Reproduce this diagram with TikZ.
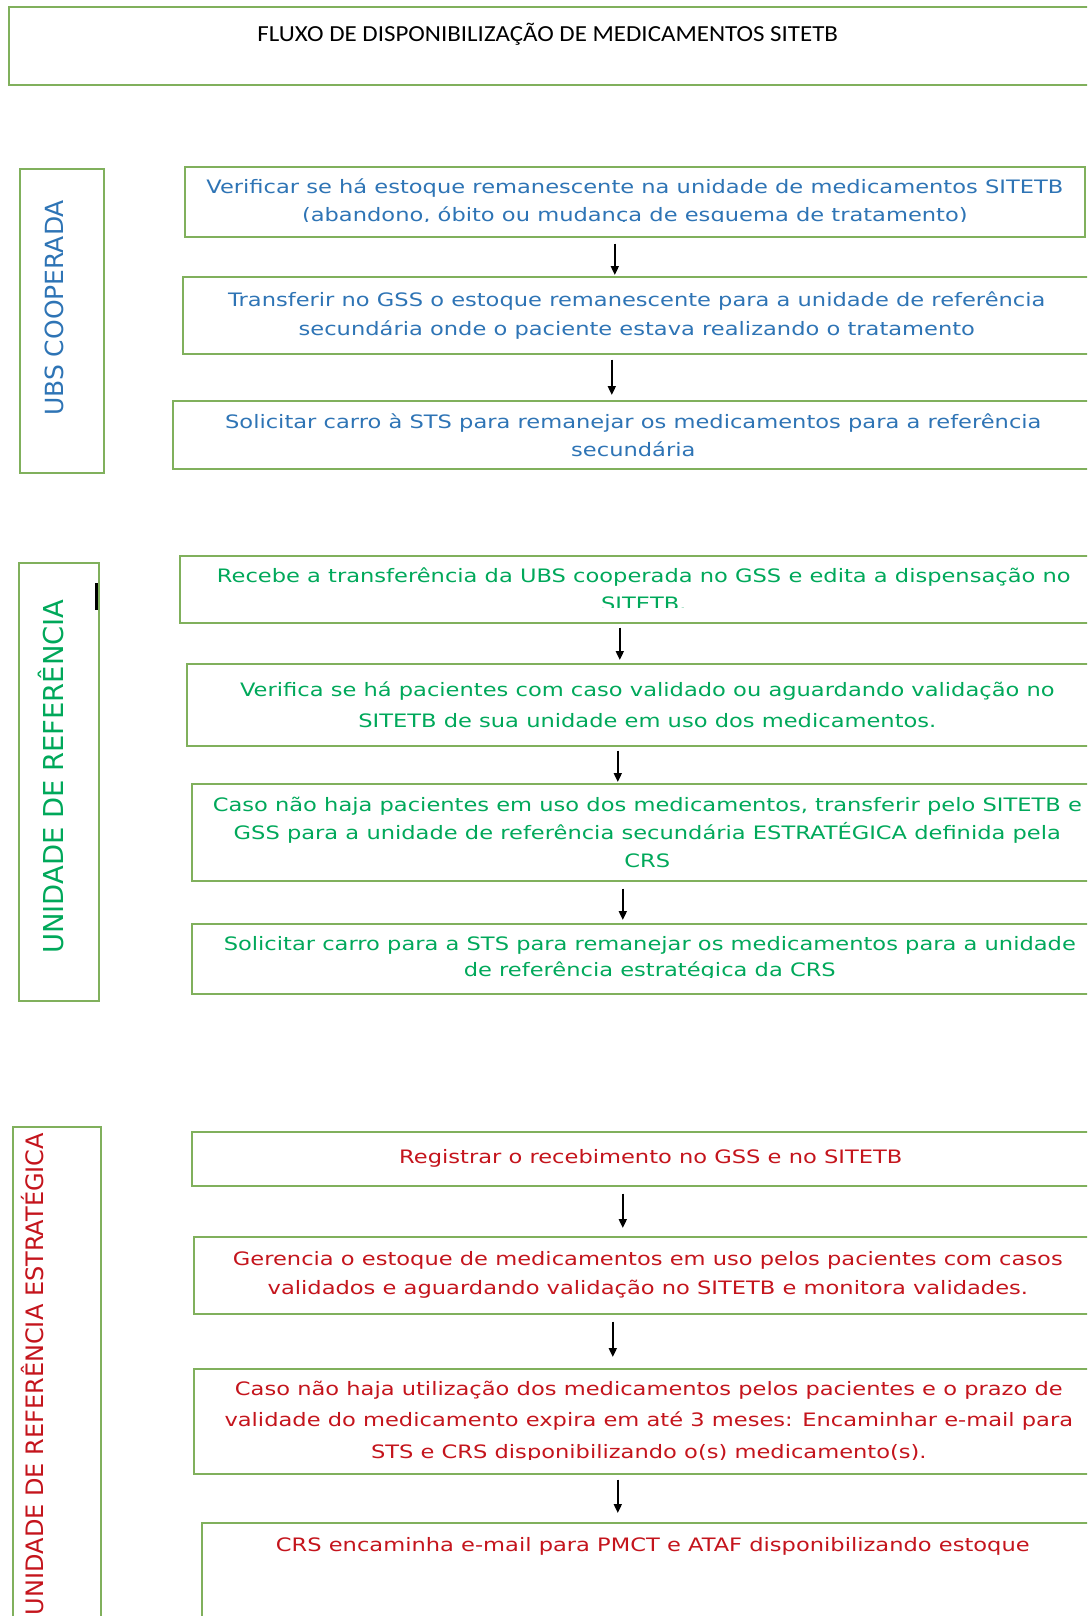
\documentclass[tikz,border=0pt]{standalone}
\usepackage{fontspec}
\setmainfont{DejaVu Sans}
\newfontfamily\stepfont[FakeStretch=1.22]{DejaVu Sans}
\newfontfamily\lanefont{DejaVu Sans}
\newfontfamily\titlefont[FakeStretch=1.085]{Carlito}
\usetikzlibrary{arrows.meta, positioning}
\definecolor{framegreen}{RGB}{128,176,92}
\definecolor{ubsblue}{RGB}{46,116,181}
\definecolor{refgreen}{RGB}{0,168,90}
\definecolor{estred}{RGB}{196,20,28}

\begin{document}
\begin{tikzpicture}[x=1pt, y=-1pt,
  >={Triangle[length=9pt, width=8pt]},
  frame/.style={rectangle, draw=framegreen, line width=1.6pt, inner sep=0pt, anchor=north west},
  stepbox/.style={frame, align=center, font=\stepfont\fontsize{18.5}{28}\selectfont},
  ubsstep/.style={stepbox, text=ubsblue},
  refstep/.style={stepbox, text=refgreen},
  eststep/.style={stepbox, text=estred},
  lane/.style={rotate=90, anchor=base, inner sep=0pt, font=\lanefont\fontsize{#1}{#1}\selectfont},
  flow/.style={->, line width=1.8pt, black, shorten <=6pt, shorten >=1pt},
  cut/.style={fill=white, draw=none},
]
\path[use as bounding box, clip] (0,0) rectangle (1087,1616);

% ---- title
\node[frame, minimum width=1082pt, minimum height=78pt] (title) at (8,6) {};
\node[anchor=base, inner sep=0pt, font=\titlefont\fontsize{23}{28}\selectfont] (titletext) at ([xshift=-2pt, yshift=-36pt]title.north) {FLUXO DE DISPONIBILIZAÇÃO DE MEDICAMENTOS SITETB};

% ---- lanes
\node[frame, minimum width=84pt, minimum height=304pt] (ubsbox) at (19,168) {};
\node[lane=25, text=ubsblue] (ubslabel) at (63,308) {UBS COOPERADA};
\node[frame, minimum width=80pt, minimum height=438pt] (refbox) at (18,562) {};
\node[lane=27.4, text=refgreen] (reflabel) at (63,776.5) {UNIDADE DE REFERÊNCIA};
\node[frame, minimum width=88pt, minimum height=520pt] (estbox) at (12,1126) {};
\node[lane=24, text=estred] (estlabel) at (43.8,1374) {UNIDADE DE REFERÊNCIA ESTRATÉGICA};
\draw[line width=2.6pt] ([xshift=-3pt, yshift=-21pt]refbox.north east) -- ++(0,27);

% ---- UBS cooperada steps
\node[ubsstep, minimum width=900pt, minimum height=70pt] (a1) at (184,166)
  {Verificar se há estoque remanescente na unidade de medicamentos SITETB\\(abandono, óbito ou mudança de esquema de tratamento)};
\node[ubsstep, minimum width=908pt, minimum height=77pt, font=\stepfont\fontsize{18.5}{29}\selectfont] (a2) at (182,276)
  {Transferir no GSS o estoque remanescente para a unidade de referência\\secundária onde o paciente estava realizando o tratamento};
\node[ubsstep, minimum width=921pt, minimum height=68pt] (a3) at (172,400)
  {Solicitar carro à STS para remanejar os medicamentos para a referência\\secundária};

% ---- unidade de referencia steps
\node[refstep, minimum width=928pt, minimum height=67pt] (b1) at (179,555)
  {Recebe a transferência da UBS cooperada no GSS e edita a dispensação no\\SITETB.};
\node[refstep, minimum width=921pt, minimum height=82pt, font=\stepfont\fontsize{18.5}{31}\selectfont] (b2) at (186,663)
  {Verifica se há pacientes com caso validado ou aguardando validação no\\SITETB de sua unidade em uso dos medicamentos.};
\node[refstep, minimum width=911pt, minimum height=97pt] (b3) at (191,783)
  {Caso não haja pacientes em uso dos medicamentos, transferir pelo SITETB e\\GSS para a unidade de referência secundária ESTRATÉGICA definida pela\\CRS};
\node[refstep, minimum width=916pt, minimum height=70pt, font=\stepfont\fontsize{18.5}{26}\selectfont] (b4) at (191,923)
  {Solicitar carro para a STS para remanejar os medicamentos para a unidade\\de referência estratégica da CRS};

% ---- unidade de referencia estrategica steps
\node[eststep, minimum width=918pt, minimum height=54pt] (c1) at (191,1131)
  {Registrar o recebimento no GSS e no SITETB};
\node[eststep, minimum width=908pt, minimum height=77pt, font=\stepfont\fontsize{18.5}{29}\selectfont] (c2) at (193,1236)
  {Gerencia o estoque de medicamentos em uso pelos pacientes com casos\\validados e aguardando validação no SITETB e monitora validades.};
\node[eststep, minimum width=910pt, minimum height=105pt, font=\stepfont\fontsize{18.5}{31.5}\selectfont] (c3) at (193,1368)
  {Caso não haja utilização dos medicamentos pelos pacientes e o prazo de\\validade do medicamento expira em até 3 meses: Encaminhar e-mail para\\STS e CRS disponibilizando o(s) medicamento(s).};
\node[eststep, minimum width=902pt, minimum height=130pt] (c4) at (201,1522) {};
\node[anchor=base, inner sep=0pt, text=estred, font=\stepfont\fontsize{18.5}{28}\selectfont] (c4text) at ([yshift=-29.5pt]c4.north)
  {CRS encaminha e-mail para PMCT e ATAF disponibilizando estoque};

% ---- text cut off at the lower edge of some boxes
\fill[cut] ([xshift=2pt, yshift=2pt]a1.south west) rectangle ([xshift=-2pt, yshift=16pt]a1.south east);
\fill[cut] ([xshift=2pt, yshift=2pt]b1.south west) rectangle ([xshift=-2pt, yshift=15.5pt]b1.south east);
\fill[cut] ([xshift=2pt, yshift=2pt]b4.south west) rectangle ([xshift=-2pt, yshift=17pt]b4.south east);
\fill[cut] ([xshift=2pt, yshift=2pt]c3.south west) rectangle ([xshift=-2pt, yshift=15pt]c3.south east);

% ---- arrows
\draw[flow] ([xshift=-20pt]a1.south) -- ([xshift=-20pt]a1.south |- a2.north);
\draw[flow, shorten <=5pt, shorten >=5pt] ([xshift=-25pt]a2.south) -- ([xshift=-25pt]a2.south |- a3.north);
\draw[flow, shorten <=4pt, shorten >=3pt] ([xshift=-24pt]b1.south) -- ([xshift=-24pt]b1.south |- b2.north);
\draw[flow, shorten <=4pt] ([xshift=-29.5pt]b2.south) -- ([xshift=-29.5pt]b2.south |- b3.north);
\draw[flow, shorten <=7pt, shorten >=3pt] ([xshift=-24.5pt]b3.south) -- ([xshift=-24.5pt]b3.south |- b4.north);
\draw[flow, shorten <=7pt, shorten >=8pt] ([xshift=-28pt]c1.south) -- ([xshift=-28pt]c1.south |- c2.north);
\draw[flow, shorten <=7pt, shorten >=11pt] ([xshift=-35pt]c2.south) -- ([xshift=-35pt]c2.south |- c3.north);
\draw[flow, shorten <=5pt, shorten >=9pt] ([xshift=-31pt]c3.south) -- ([xshift=-31pt]c3.south |- c4.north);

\end{tikzpicture}
\end{document}
